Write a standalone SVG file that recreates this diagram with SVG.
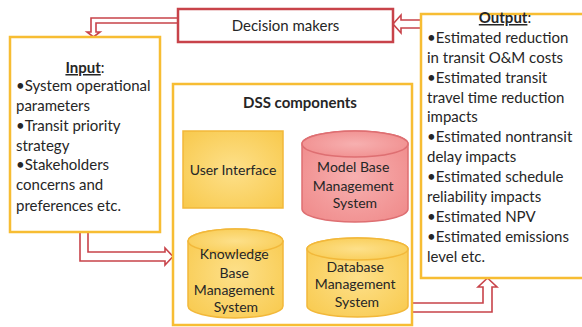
<svg xmlns="http://www.w3.org/2000/svg" width="582" height="327" viewBox="0 0 582 327">
  <defs>
    <radialGradient id="gYellow" cx="50%" cy="50%" r="70%">
      <stop offset="0" stop-color="#fde08a"/>
      <stop offset="1" stop-color="#f8c94c"/>
    </radialGradient>
    <radialGradient id="gPink" cx="50%" cy="50%" r="70%">
      <stop offset="0" stop-color="#f7b0b0"/>
      <stop offset="1" stop-color="#ef8888"/>
    </radialGradient>
    <style>
      .frame { fill: #ffffff; stroke: #f7bd33; stroke-width: 2.5; }
      .red { fill: #ffffff; stroke: #c8434a; stroke-width: 2.5; }
      .arrow { fill: #ffffff; stroke: #c8434a; stroke-width: 1.6; stroke-linejoin: miter; }
      .yel { fill: url(#gYellow); stroke: #f2b83a; stroke-width: 1.5; }
      .pink { fill: url(#gPink); stroke: #de6f72; stroke-width: 1.5; }
      text { font-family: Lato, "Liberation Sans", sans-serif; fill: #262626; }
      .body { font-size: 15px; }
      .lbl { font-size: 14px; text-anchor: middle; }
      .ttl { font-size: 15px; font-weight: bold; text-anchor: middle; }
    </style>
  </defs>

  <!-- connectors: hollow block arrows -->
  <g id="connectors">
    <path class="arrow" d="M178,18 L91,18 L91,32 L87,32 L93.5,37 L100,32 L96,32 L96,23 L178,23 Z"/>
    <path class="arrow" d="M421,20 L401,20 L401,15 L393,24 L401,33 L401,28 L421,28 Z"/>
    <path class="arrow" d="M80,232 L80,261 L165,261 L165,265 L173,256.5 L165,248 L165,252 L88,252 L88,232 Z"/>
    <path class="arrow" d="M412,312 L492,312 L492,287 L497,287 L487.5,278 L478,287 L483,287 L483,303 L412,303 Z"/>
  </g>

  <g id="decision-makers">
    <rect class="red" x="178" y="9" width="215" height="33"/>
    <text class="body" x="285.5" y="31" text-anchor="middle">Decision makers</text>
  </g>

  <g id="input">
    <rect class="frame" x="10" y="37" width="150" height="195"/>
    <text class="body" x="85" y="73" text-anchor="middle" font-weight="bold" font-size="16"><tspan text-decoration="underline">Input</tspan><tspan font-weight="normal">:</tspan></text>
    <text class="body" x="16">
      <tspan x="16" y="91">•System operational</tspan>
      <tspan x="16" y="111">parameters</tspan>
      <tspan x="16" y="131">•Transit priority</tspan>
      <tspan x="16" y="151">strategy</tspan>
      <tspan x="16" y="170">•Stakeholders</tspan>
      <tspan x="16" y="190">concerns and</tspan>
      <tspan x="16" y="211">preferences etc.</tspan>
    </text>
  </g>

  <g id="dss-components">
    <rect class="frame" x="173" y="84" width="239" height="241"/>
    <text class="ttl" x="300" y="108">DSS components</text>
  </g>

  <g id="user-interface">
    <rect class="yel" x="183" y="131" width="100" height="77"/>
    <text class="lbl" x="233" y="175">User Interface</text>
  </g>

  <g id="model-base">
    <path class="pink" d="M302,144 A53,13 0 0 1 408,144 L408,209 A53,13 0 0 1 302,209 Z"/>
    <ellipse class="pink" cx="355" cy="144" rx="53" ry="13"/>
    <text class="lbl">
      <tspan x="355" y="172">Model Base</tspan>
      <tspan x="355" y="191">Management</tspan>
      <tspan x="355" y="208">System</tspan>
    </text>
  </g>

  <g id="knowledge-base">
    <path class="yel" d="M188,241 A47.5,12 0 0 1 283,241 L283,306 A47.5,12 0 0 1 188,306 Z"/>
    <ellipse class="yel" cx="235.5" cy="241" rx="47.5" ry="12"/>
    <text class="lbl">
      <tspan x="236" y="259">Knowledge</tspan>
      <tspan x="236" y="278">Base</tspan>
      <tspan x="236" y="295">Management</tspan>
      <tspan x="236" y="312">System</tspan>
    </text>
  </g>

  <g id="database">
    <path class="yel" d="M307,249 A50.5,11 0 0 1 408,249 L408,306 A50.5,11 0 0 1 307,306 Z"/>
    <ellipse class="yel" cx="357.5" cy="249" rx="50.5" ry="11"/>
    <text class="lbl">
      <tspan x="357" y="272">Database</tspan>
      <tspan x="357" y="289">Management</tspan>
      <tspan x="357" y="307">System</tspan>
    </text>
  </g>

  <g id="output">
    <path class="frame" d="M584,14 L421,14 L421,278 L584,278"/>
    <text class="body" x="505" y="23" text-anchor="middle" font-weight="bold" font-size="16"><tspan text-decoration="underline">Output</tspan><tspan font-weight="normal">:</tspan></text>
    <text class="body">
      <tspan x="427" y="43">•Estimated reduction</tspan>
      <tspan x="427" y="63">in transit O&amp;M costs</tspan>
      <tspan x="427" y="83">•Estimated transit</tspan>
      <tspan x="427" y="103">travel time reduction</tspan>
      <tspan x="427" y="122">impacts</tspan>
      <tspan x="427" y="142">•Estimated nontransit</tspan>
      <tspan x="427" y="162">delay impacts</tspan>
      <tspan x="427" y="182">•Estimated schedule</tspan>
      <tspan x="427" y="202">reliability impacts</tspan>
      <tspan x="427" y="222">•Estimated NPV</tspan>
      <tspan x="427" y="242">•Estimated emissions</tspan>
      <tspan x="427" y="262">level etc.</tspan>
    </text>
  </g>
</svg>
